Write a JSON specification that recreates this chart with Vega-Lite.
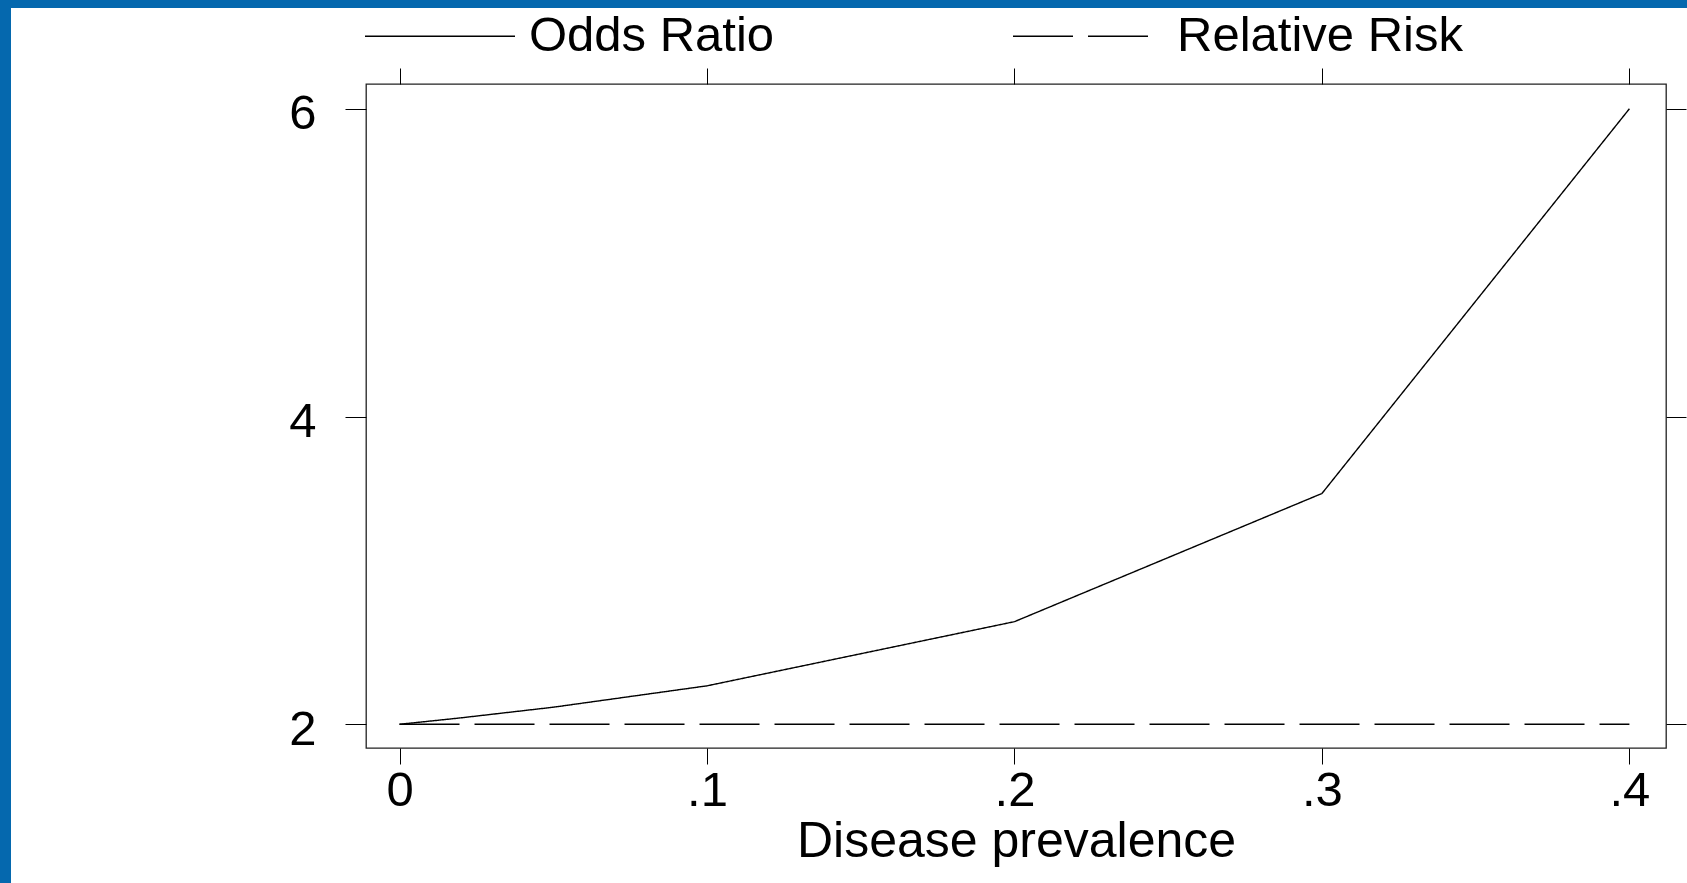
{
  "$schema": "https://vega.github.io/schema/vega-lite/v6.json",
  "background": "white",
  "padding": 0,
  "spacing": 0,
  "config": {"font": "Liberation Sans", "view": {"stroke": null}},
  "datasets": {
    "curves": [
      {"prevalence": 0, "measure": "Odds Ratio", "value": 2},
      {"prevalence": 0.02, "measure": "Odds Ratio", "value": 2.042},
      {"prevalence": 0.05, "measure": "Odds Ratio", "value": 2.111},
      {"prevalence": 0.1, "measure": "Odds Ratio", "value": 2.25},
      {"prevalence": 0.2, "measure": "Odds Ratio", "value": 2.667},
      {"prevalence": 0.3, "measure": "Odds Ratio", "value": 3.5},
      {"prevalence": 0.4, "measure": "Odds Ratio", "value": 6},
      {"prevalence": 0, "measure": "Relative Risk", "value": 2},
      {"prevalence": 0.02, "measure": "Relative Risk", "value": 2},
      {"prevalence": 0.05, "measure": "Relative Risk", "value": 2},
      {"prevalence": 0.1, "measure": "Relative Risk", "value": 2},
      {"prevalence": 0.2, "measure": "Relative Risk", "value": 2},
      {"prevalence": 0.3, "measure": "Relative Risk", "value": 2},
      {"prevalence": 0.4, "measure": "Relative Risk", "value": 2}
    ]
  },
  "vconcat": [
    {
      "data": {"values": []},
      "width": 1687,
      "height": 8,
      "view": {"fill": "#0568AE", "stroke": null},
      "mark": "rect",
      "encoding": {}
    },
    {
      "spacing": 0,
      "hconcat": [
        {
          "data": {"values": []},
          "width": 11,
          "height": 875,
          "view": {"fill": "#0568AE", "stroke": null},
          "mark": "rect",
          "encoding": {}
        },
        {
          "spacing": 0,
          "vconcat": [
            {
              "data": {"values": []},
              "width": 1,
              "height": 1,
              "view": {"fill": null, "stroke": null},
              "mark": "rect",
              "encoding": {}
            },
            {
              "data": {"name": "curves"},
              "width": 1300,
              "height": 664,
              "view": {"stroke": "#222222", "strokeWidth": 1.3, "fill": "white"},
              "layer": [
                {
                  "mark": {"type": "line", "strokeWidth": 1.4},
                  "encoding": {
                    "x": {
                      "field": "prevalence", "type": "quantitative",
                      "scale": {"domain": [-0.0109, 0.4119], "nice": false, "zero": false},
                      "axis": {
                        "orient": "bottom", "values": [0, 0.1, 0.2, 0.3, 0.4], "format": ".1~f",
                        "labelExpr": "replace(datum.label, '0.', '.')",
                        "title": "Disease prevalence", "domain": false, "grid": false,
                        "tickSize": 16, "tickColor": "black", "tickWidth": 1,
                        "labelPadding": 2, "labelFontSize": 49, "labelColor": "black", "labelFlush": false,
                        "titleFontSize": 50, "titleColor": "black", "titleFontWeight": "normal", "titlePadding": 1
                      }
                    },
                    "y": {
                      "field": "value", "type": "quantitative",
                      "scale": {"domain": [1.846, 6.161], "nice": false, "zero": false},
                      "axis": {
                        "orient": "left", "values": [2, 4, 6], "title": null, "domain": false, "grid": false,
                        "tickSize": 21, "tickColor": "black", "tickWidth": 1,
                        "labelPadding": 29, "labelOffset": 5, "labelFontSize": 49, "labelColor": "black",
                        "labelFlush": false, "minExtent": 354
                      }
                    },
                    "color": {
                      "field": "measure", "type": "nominal",
                      "scale": {"range": ["black", "black"]},
                      "legend": {
                        "title": null, "orient": "none", "legendX": 364, "legendY": 11.5,
                        "direction": "horizontal", "symbolType": "stroke", "symbolSize": 22500,
                        "symbolStrokeWidth": 1.4, "labelFontSize": 49, "labelOffset": 13, "clipHeight": 49,
                        "columnPadding": 237, "labelLimit": 1000, "labelColor": "black", "padding": 0
                      }
                    },
                    "strokeDash": {
                      "field": "measure", "type": "nominal",
                      "scale": {"range": [[1, 0], [60, 15]]},
                      "legend": {
                        "title": null, "orient": "none", "legendX": 364, "legendY": 11.5,
                        "direction": "horizontal", "symbolType": "stroke", "symbolSize": 22500,
                        "symbolStrokeWidth": 1.4, "labelFontSize": 49, "labelOffset": 13, "clipHeight": 49,
                        "columnPadding": 237, "labelLimit": 1000, "labelColor": "black", "padding": 0
                      }
                    }
                  }
                },
                {
                  "mark": {"type": "line", "opacity": 0},
                  "encoding": {
                    "x": {
                      "field": "prevalence", "type": "quantitative",
                      "scale": {"domain": [-0.0109, 0.4119], "nice": false, "zero": false},
                      "axis": {
                        "orient": "top", "values": [0, 0.1, 0.2, 0.3, 0.4], "labels": false,
                        "title": null, "domain": false, "grid": false,
                        "tickSize": 16, "tickColor": "black", "tickWidth": 1, "minExtent": 74
                      }
                    },
                    "y": {
                      "field": "value", "type": "quantitative",
                      "scale": {"domain": [1.846, 6.161], "nice": false, "zero": false},
                      "axis": {
                        "orient": "right", "values": [2, 4, 6], "labels": false,
                        "title": null, "domain": false, "grid": false,
                        "tickSize": 20, "tickColor": "black", "tickWidth": 1
                      }
                    },
                    "detail": {"field": "measure", "type": "nominal"}
                  }
                }
              ],
              "resolve": {"axis": {"x": "independent", "y": "independent"}}
            }
          ]
        }
      ]
    }
  ]
}
